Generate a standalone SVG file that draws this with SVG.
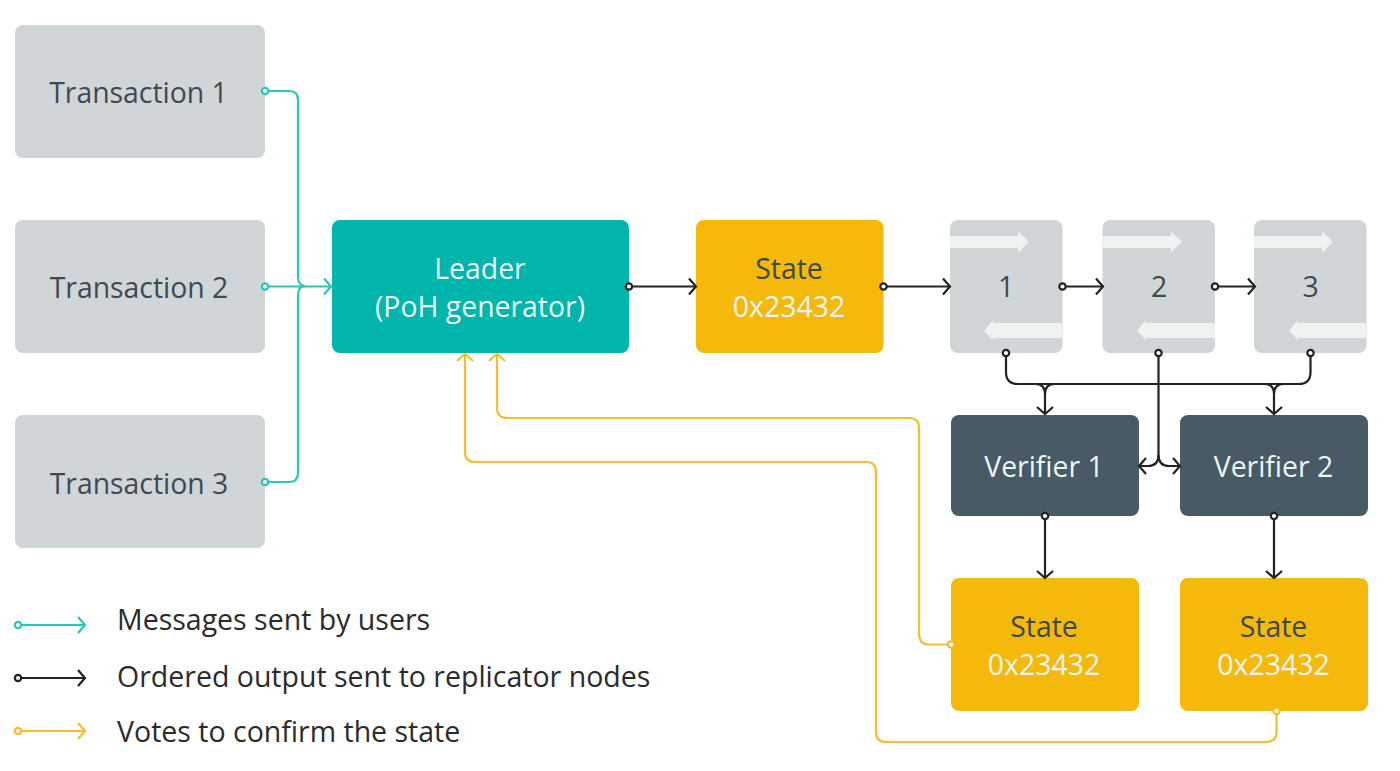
<svg xmlns="http://www.w3.org/2000/svg" width="1400" height="771" viewBox="0 0 1400 771">
<style>
text{font-family:"Open Sans","Noto Sans","DejaVu Sans",sans-serif;font-size:28.4px;text-anchor:middle}
.grey{fill:#d0d5d8}.teal{fill:#00b5ab}.amber{fill:#f4b90b}.slate{fill:#475a65}
.d{fill:#3d4a52}.w{fill:#eef6f5}.k{fill:#2b2b2b;text-anchor:start;font-size:28.5px}
.strip{fill:#f0f2f2}
.c{fill:none;stroke-width:2.2}
.tl{stroke:#2cc5bb}.bk{stroke:#222}.yl{stroke:#f8bd2e}
.o{fill:#fff;stroke-width:2.2}
</style>
<defs>
<marker id="at" markerUnits="userSpaceOnUse" markerWidth="16" markerHeight="20" refX="12" refY="10" orient="auto"><path d="M5 2L12 10L5 18" fill="none" stroke="#2cc5bb" stroke-width="2.2"/></marker>
<marker id="ak" markerUnits="userSpaceOnUse" markerWidth="16" markerHeight="20" refX="12" refY="10" orient="auto"><path d="M5 2L12 10L5 18" fill="none" stroke="#222" stroke-width="2.2"/></marker>
<marker id="ay" markerUnits="userSpaceOnUse" markerWidth="16" markerHeight="20" refX="12" refY="10" orient="auto"><path d="M5 2L12 10L5 18" fill="none" stroke="#f8bd2e" stroke-width="2.2"/></marker>
</defs>
<g id="tx1"><rect class="grey" x="15" y="25" width="250" height="133" rx="8"/><text class="d" x="138.500" y="102.500">Transaction 1</text></g>
<g id="tx2"><rect class="grey" x="15" y="220" width="250" height="133" rx="8"/><text class="d" x="139" y="297.500">Transaction 2</text></g>
<g id="tx3"><rect class="grey" x="15" y="415" width="250" height="133" rx="8"/><text class="d" x="139" y="493.500">Transaction 3</text></g>
<g id="leader"><rect class="teal" x="332" y="220" width="297" height="133" rx="8"/><text class="w" x="480" y="278.500">Leader</text><text class="w" x="480" y="317">(PoH generator)</text></g>
<g id="state0"><rect class="amber" x="696" y="220" width="187.500" height="133" rx="8"/><text class="d" x="789" y="278.500">State</text><text class="w" x="789" y="317">0x23432</text></g>
<g id="rep1"><rect class="grey" x="950" y="220" width="112.500" height="133" rx="8"/><path class="strip" d="M950 236H1018V231.500L1029 242L1018 252.500V248H950Z"/><path class="strip" d="M1062.500 323H993V320L984 331L993 340V338H1062.500Z"/><text class="d" x="1006" y="296.500">1</text></g>
<g id="rep2"><rect class="grey" x="1102.500" y="220" width="112.500" height="133" rx="8"/><path class="strip" d="M1102.500 236H1171V231.500L1182 242L1171 252.500V248H1102.500Z"/><path class="strip" d="M1215 323H1146V320L1137 331L1146 340V338H1215Z"/><text class="d" x="1159" y="296.500">2</text></g>
<g id="rep3"><rect class="grey" x="1254" y="220" width="112.500" height="133" rx="8"/><path class="strip" d="M1254 236H1322V231.500L1333 242L1322 252.500V248H1254Z"/><path class="strip" d="M1366.500 323H1298V320L1289 331L1298 340V338H1366.500Z"/><text class="d" x="1310.500" y="296.500">3</text></g>
<g id="ver1"><rect class="slate" x="951" y="415" width="188" height="101" rx="8"/><text class="w" x="1044" y="477">Verifier 1</text></g>
<g id="ver2"><rect class="slate" x="1180" y="415" width="188" height="101" rx="8"/><text class="w" x="1273.500" y="477">Verifier 2</text></g>
<g id="state1"><rect class="amber" x="951" y="578" width="188" height="133" rx="8"/><text class="d" x="1044" y="636.500">State</text><text class="w" x="1044" y="675">0x23432</text></g>
<g id="state2"><rect class="amber" x="1180" y="578" width="188" height="133" rx="8"/><text class="d" x="1273.500" y="636.500">State</text><text class="w" x="1273.500" y="675">0x23432</text></g>
<g id="connectors">
<path class="c tl" d="M265 91H289Q298 91 298 100V276Q298 286 305 286"/>
<path class="c tl" d="M265 482H289Q298 482 298 473V296Q298 286 305 286"/>
<path class="c tl" d="M265 286.500H331" marker-end="url(#at)"/>
<circle class="tl o" cx="265" cy="91" r="3.200"/><circle class="tl o" cx="265" cy="286.500" r="3.200"/><circle class="tl o" cx="265" cy="482" r="3.200"/>
<path class="c bk" d="M629 286.500H696" marker-end="url(#ak)"/>
<path class="c bk" d="M883.500 286.500H950" marker-end="url(#ak)"/>
<path class="c bk" d="M1062.500 286.500H1103" marker-end="url(#ak)"/>
<path class="c bk" d="M1215 286.500H1255" marker-end="url(#ak)"/>
<path class="c bk" d="M1006 353V372Q1006 384 1018 384H1299Q1310.500 384 1310.500 372V353"/>
<path class="c bk" d="M1035 384Q1045 384 1045 394V414" marker-end="url(#ak)"/>
<path class="c bk" d="M1055 384Q1045 384 1045 394"/>
<path class="c bk" d="M1264 384Q1274 384 1274 394V414" marker-end="url(#ak)"/>
<path class="c bk" d="M1284 384Q1274 384 1274 394"/>
<path class="c bk" d="M1158.500 353V455Q1158.500 466 1148 466H1139" marker-end="url(#ak)"/>
<path class="c bk" d="M1158.500 455Q1158.500 466 1169 466H1180" marker-end="url(#ak)"/>
<path class="c bk" d="M1045 516V578" marker-end="url(#ak)"/>
<path class="c bk" d="M1274 516V578" marker-end="url(#ak)"/>
<circle class="bk o" cx="629" cy="286.500" r="3.200"/><circle class="bk o" cx="883.500" cy="286.500" r="3.200"/><circle class="bk o" cx="1062.500" cy="286.500" r="3.200"/><circle class="bk o" cx="1215" cy="286.500" r="3.200"/>
<circle class="bk o" cx="1006" cy="353" r="3.200"/><circle class="bk o" cx="1158.500" cy="353" r="3.200"/><circle class="bk o" cx="1310.500" cy="353" r="3.200"/>
<circle class="bk o" cx="1045" cy="516" r="3.200"/><circle class="bk o" cx="1274" cy="516" r="3.200"/>
<path class="c yl" d="M951 644.500H929Q919 644.500 919 634V428Q919 418 909 418H507Q497 418 497 408V354" marker-end="url(#ay)"/>
<path class="c yl" d="M1276.500 711V732Q1276.500 742 1266 742H886Q876 742 876 732V472Q876 462 866 462H475Q465 462 465 452V354" marker-end="url(#ay)"/>
<circle class="yl o" cx="951" cy="644.500" r="3.200"/><circle class="yl o" cx="1276.500" cy="711" r="3.200"/>
</g>
<g id="legend">
<path class="c tl" d="M18 625H85" marker-end="url(#at)"/><circle class="tl o" cx="18" cy="625" r="3.200"/>
<path class="c bk" d="M18 678H85" marker-end="url(#ak)"/><circle class="bk o" cx="18" cy="678" r="3.200"/>
<path class="c yl" d="M18 731H85" marker-end="url(#ay)"/><circle class="yl o" cx="18" cy="731" r="3.200"/>
<text class="k" x="117" y="630">Messages sent by users</text>
<text class="k" x="117" y="686.500">Ordered output sent to replicator nodes</text>
<text class="k" x="117" y="742">Votes to confirm the state</text>
</g>
</svg>
